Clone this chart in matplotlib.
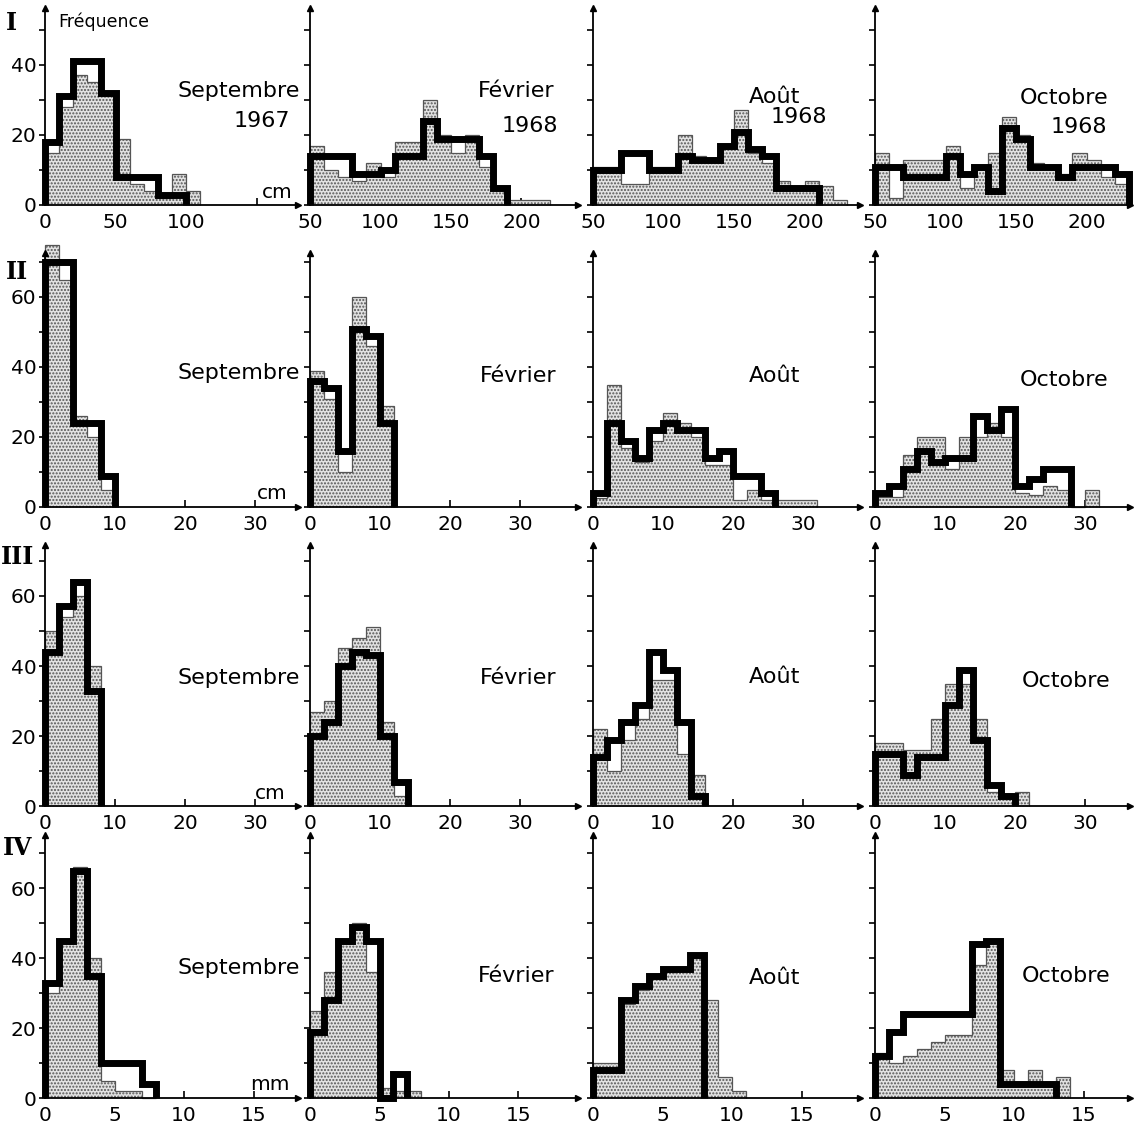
import numpy as np
import matplotlib
matplotlib.use('Agg')
import matplotlib.pyplot as plt

### Distributions de taille (I-IV), quatre dates d'echantillonnage
### stipple = un echantillon, trait noir epais = l'autre

months = ['Septembre', 'Février', 'Août', 'Octobre']
years_row1 = ['1967', '1968', '1968', '1968']
row_names = ['I', 'II', 'III', 'IV']
row_units = ['cm', 'cm', 'cm', 'mm']
row_bin = [10, 2, 2, 1]

# row I : classes de 10 cm (Septembre depuis 0, les autres depuis 50)
stip_I_sep = [15, 28, 37, 35, 31, 19, 6, 4, 2, 9, 4]
black_I_sep = [18, 31, 41, 41, 32, 8, 8, 8, 3, 3]
stip_I_fev = [17, 10, 8, 7, 12, 8, 18, 18, 30, 20, 15, 20, 11, 5, 1.5, 1.5, 1.5]
black_I_fev = [14, 14, 14, 9, 9, 10, 14, 14, 24, 19, 19, 19, 14, 5]
stip_I_aou = [11, 11, 6, 6, 11, 11, 20, 14, 13, 16, 27, 15, 12, 7, 5, 7, 5.5, 1.5]
black_I_aou = [10, 10, 15, 15, 10, 10, 14, 13, 13, 17, 21, 16, 14, 5, 5, 5]
stip_I_oct = [15, 2, 13, 13, 13, 17, 5, 11, 15, 25, 20, 12, 11, 9, 15, 13, 8, 6]
black_I_oct = [11, 11, 8, 8, 8, 14, 9, 11, 4, 22, 19, 11, 11, 8, 11, 11, 11, 9]
start_I = [0, 50, 50, 50]

# row II : classes de 2 cm
stip_II_sep = [75, 65, 26, 20, 5]
black_II_sep = [70, 70, 24, 24, 9]
stip_II_fev = [39, 31, 10, 60, 46, 29]
black_II_fev = [36, 34, 16, 51, 49, 24]
stip_II_aou = [2.5, 35, 17, 13, 19, 27, 24, 20, 12, 12, 2, 5, 2, 2, 2, 2]
black_II_aou = [4, 24, 19, 14, 22, 24, 22, 22, 14, 16, 9, 9, 4]
stip_II_oct = [3, 3, 15, 20, 20, 11, 20, 20, 24, 20, 4, 3.5, 6, 5, 0, 5]
black_II_oct = [4, 6, 11, 16, 13, 14, 14, 26, 22, 28, 6, 8, 11, 11]

# row III : classes de 2 cm
stip_III_sep = [50, 54, 60, 40]
black_III_sep = [44, 57, 64, 33]
stip_III_fev = [27, 30, 45, 48, 51, 24, 3]
black_III_fev = [20, 24, 40, 44, 43, 20, 7]
stip_III_aou = [22, 10, 19, 25, 36, 36, 15, 9]
black_III_aou = [14, 19, 24, 29, 44, 39, 24, 3]
stip_III_oct = [18, 18, 16, 16, 25, 35, 35, 25, 4, 2, 4]
black_III_oct = [15, 15, 9, 14, 14, 29, 39, 19, 6, 3]

# row IV : classes de 1 mm
stip_IV_sep = [30, 45, 66, 40, 5, 2, 2, 0]
black_IV_sep = [33, 45, 65, 35, 10, 10, 10, 4]
stip_IV_fev = [25, 36, 45, 50, 36, 3, 2, 2]
black_IV_fev = [19, 28, 45, 49, 45, 0, 7]
stip_IV_aou = [10, 10, 27, 31, 34, 36, 37, 40, 28, 6, 2]
black_IV_aou = [8, 8, 28, 32, 35, 37, 37, 41]
stip_IV_oct = [13, 10, 12, 14, 16, 18, 18, 38, 45, 8, 4, 8, 4, 6]
black_IV_oct = [12, 19, 24, 24, 24, 24, 24, 44, 45, 4, 4, 4, 4]

stipple = [[stip_I_sep, stip_I_fev, stip_I_aou, stip_I_oct],
           [stip_II_sep, stip_II_fev, stip_II_aou, stip_II_oct],
           [stip_III_sep, stip_III_fev, stip_III_aou, stip_III_oct],
           [stip_IV_sep, stip_IV_fev, stip_IV_aou, stip_IV_oct]]
black = [[black_I_sep, black_I_fev, black_I_aou, black_I_oct],
         [black_II_sep, black_II_fev, black_II_aou, black_II_oct],
         [black_III_sep, black_III_fev, black_III_aou, black_III_oct],
         [black_IV_sep, black_IV_fev, black_IV_aou, black_IV_oct]]

xticks_row = [[0, 50, 100, 150], [0, 10, 20, 30], [0, 10, 20, 30], [0, 5, 10, 15]]
xticks_row1_other = [50, 100, 150, 200]


# ---- layout (pixels) ----
W, H = 1134, 1143
col_left = [45, 310, 593, 875]
col_right = [298, 578, 860, 1130]
row_base = [205, 507, 806, 1098]
row_top = [8, 253, 545, 835]
row_scale = [1.41, 7.0, 7.0, 13.9]   # px per x unit
y_scale = 3.5                         # px per count

month_pos = [[(300, 91), (555, 91), (800, 97), (1108, 98)],
             [(300, 373), (557, 376), (800, 376), (1108, 380)],
             [(300, 678), (557, 678), (800, 677), (1110, 681)],
             [(300, 968), (555, 976), (800, 978), (1110, 976)]]
year_pos = [(290, 121), (558, 126), (827, 117), (1107, 127)]
roman_pos = [(11, 23), (17, 272), (18, 557), (18, 848)]
unit_pos = [(262, 202), (257, 503), (255, 803), (250, 1094)]


def fx(px):
    return px / W


def fy(py):
    return 1 - py / H


plt.rcParams['font.family'] = 'DejaVu Sans'
plt.rcParams['hatch.linewidth'] = 1.0

fig = plt.figure(figsize=(W / 100, H / 100), dpi=100)

for r in range(4):
    for c in range(4):
        L, R = col_left[c], col_right[c]
        B, T = row_base[r], row_top[r]
        ax = fig.add_axes([fx(L), fy(B), (R - L) / W, (B - T) / H])

        x0 = start_I[c] if r == 0 else 0
        ymax = (B - T) / y_scale
        ax.set_xlim(x0, x0 + (R - L) / row_scale[r])
        ax.set_ylim(0, ymax)

        s = np.array(stipple[r][c], dtype=float)
        k = np.array(black[r][c], dtype=float)
        s_edges = x0 + row_bin[r] * np.arange(len(s) + 1)
        k_edges = x0 + row_bin[r] * np.arange(len(k) + 1)

        ax.stairs(s, s_edges, baseline=0, fill=True, facecolor='#e2e2e2',
                  edgecolor='#555555', hatch='.....', lw=0.9, zorder=2, clip_on=False)
        ax.stairs(k, k_edges, baseline=0, color='black', lw=5, zorder=3,
                  clip_on=False)

        for sp in ['top', 'right']:
            ax.spines[sp].set_visible(False)
        for sp in ['left', 'bottom']:
            ax.spines[sp].set_linewidth(1.3)
            ax.spines[sp].set_zorder(4)
        ax.plot(1, 0, '>', color='black', ms=5, transform=ax.transAxes, clip_on=False, zorder=5)
        ax.plot(0, 1, '^', color='black', ms=5, transform=ax.transAxes, clip_on=False, zorder=5)

        if r == 0 and c > 0:
            xt = xticks_row1_other
        else:
            xt = xticks_row[r]
        ax.set_xticks(xt)
        xl = [str(v) for v in xt]
        if r == 0 and c == 0:
            xl[-1] = ''
        ax.set_xticklabels(xl)
        ax.tick_params(axis='x', direction='in', length=5, width=1.2, labelsize=14.5, pad=6)

        yt = np.arange(0, ymax, 10)
        ax.set_yticks(yt)
        if c == 0:
            ax.set_yticklabels([str(int(v)) if v % 20 == 0 else '' for v in yt])
        else:
            ax.set_yticklabels([])
        ax.tick_params(axis='y', direction='out', length=4, width=1.2, labelsize=14.5, pad=2)
        ax.patch.set_alpha(0)

        mx, my = month_pos[r][c]
        fig.text(fx(mx), fy(my), months[c], ha='right', va='center', fontsize=16)

for c in range(4):
    yx, yy = year_pos[c]
    fig.text(fx(yx), fy(yy), years_row1[c], ha='right', va='center', fontsize=16)

for r in range(4):
    rx, ry = roman_pos[r]
    fig.text(fx(rx), fy(ry), row_names[r], ha='center', va='center', fontsize=17,
             family='DejaVu Serif', weight='bold')
    ux, uy = unit_pos[r]
    fig.text(fx(ux), fy(uy), row_units[r], ha='left', va='bottom', fontsize=14.5)

fig.text(fx(58), fy(22), 'Fréquence', ha='left', va='center', fontsize=12.5)

fig.savefig('out.png', dpi=100)
